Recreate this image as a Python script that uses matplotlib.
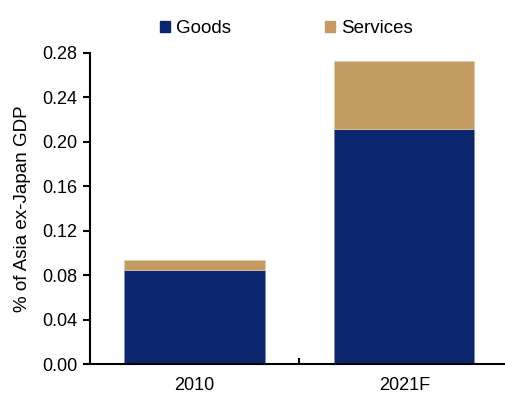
import matplotlib.pyplot as plt
from matplotlib.patches import Patch

plt.rcParams['font.family'] = ['Liberation Sans', 'DejaVu Sans']

# share of Asia ex-Japan GDP
years = ["2010", "2021F"]
goods = [0.085, 0.212]
services = [0.009, 0.061]

navy = "#0c266e"
tan = "#c39b63"

fig = plt.figure(figsize=(5.05, 3.97), dpi=100)
ax = fig.add_axes([0.178, 0.083, 0.83, 0.7835])

x = range(len(years))
ax.bar(x, goods, width=0.67, color=navy, edgecolor="#7d8fc0", linewidth=0.5)
ax.bar(x, services, width=0.67, bottom=goods, color=tan, edgecolor="#e0cda8", linewidth=0.5)

ax.set_xlim(-0.5, 1.5)
ax.set_ylim(0, 0.28)
ax.set_yticks([0.0, 0.04, 0.08, 0.12, 0.16, 0.20, 0.24, 0.28])
ax.set_yticklabels([f"{v:.2f}" for v in ax.get_yticks()], fontsize=13)
ax.set_xticks([0.5], minor=True)
ax.set_xticks(list(x))
ax.set_xticklabels(years, fontsize=13)
ax.tick_params(axis="x", which="major", length=0, pad=9)
ax.tick_params(axis="x", which="minor", length=4, width=1.5, direction="in")
ax.tick_params(axis="y", length=5, width=1.5, direction="out", pad=4)

for side in ["top", "right"]:
    ax.spines[side].set_visible(False)
ax.spines["left"].set_linewidth(1.5)
ax.spines["bottom"].set_linewidth(1.5)

ax.set_ylabel("% of Asia ex-Japan GDP", fontsize=13.5, labelpad=8)

handles = [Patch(color=navy, label="Goods"), Patch(color=tan, label="Services")]
fig.legend(handles=handles, loc="center", bbox_to_anchor=(0.567, 0.928), ncol=2,
           frameon=False, fontsize=13.5, handlelength=0.55, handleheight=0.55,
           handletextpad=0.3, columnspacing=5.0)

fig.savefig("out.png", dpi=100)
